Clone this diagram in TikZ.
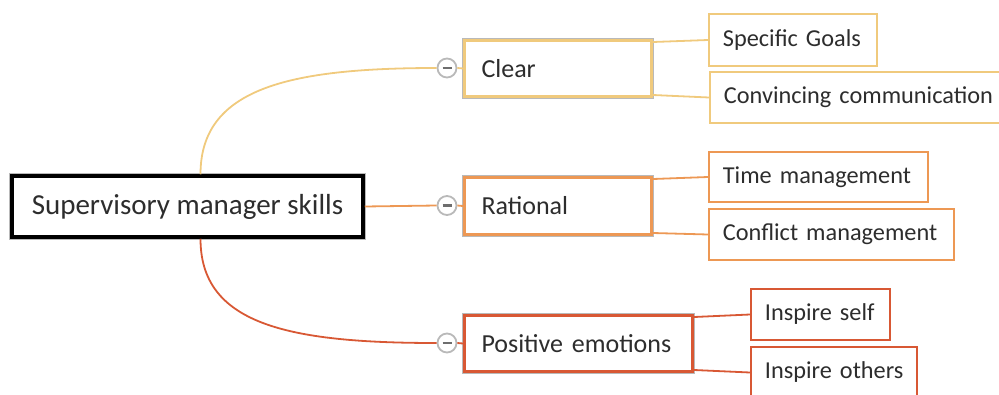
\documentclass[tikz,border=0pt]{standalone}
\usepackage{fontspec}
\setmainfont{Carlito}
\definecolor{cgold}{RGB}{240,202,125}
\definecolor{corange}{RGB}{237,152,84}
\definecolor{cred}{RGB}{216,88,52}
\definecolor{ctext}{RGB}{45,45,45}
\definecolor{chalo}{RGB}{185,185,185}
\definecolor{cminus}{RGB}{110,110,110}
\begin{document}
\begin{tikzpicture}[x=1pt,y=-1pt,
  rootbox/.style={draw=black, line width=3.5pt, preaction={draw=chalo, line width=6pt},
    fill=white, minimum width=351pt, minimum height=61pt, inner sep=0pt,
    font=\fontsize{29}{34}\selectfont, text=ctext},
  midbox/.style={draw=#1, line width=3pt, preaction={draw=chalo, line width=5pt},
    fill=white, anchor=west, inner xsep=17pt, inner ysep=0pt, align=left,
    font=\fontsize{26}{31}\selectfont, text=ctext},
  leafbox/.style={draw=#1, line width=1.8pt, fill=white, anchor=west,
    inner xsep=14pt, inner ysep=0pt, align=left,
    font=\fontsize{24.3}{29}\selectfont, text=ctext},
  toggle/.style={circle, draw=chalo, line width=1.8pt, fill=white,
    minimum size=19pt, inner sep=0pt},
  link/.style={draw=#1, line width=1.8pt},
  minusbar/.style={draw=cminus, line width=2.6pt},
]
\useasboundingbox (0,0) rectangle (999,394);
\clip (0,0) rectangle (999,394);

% root
\node[rootbox] (root) at (187.5,206.5) {Supervisory manager skills};

% toggles
\node[toggle] (t1) at (447,68) {};
\node[toggle] (t2) at (447,205.5) {};
\node[toggle] (t3) at (447,343) {};

% main branches
\node[midbox=cgold, text width=153pt, minimum height=56pt] (clear) at (463,68.5) {\mbox{Clear}};
\node[midbox=corange, text width=153pt, minimum height=57pt] (rational) at (463,206) {\mbox{Rational}};
\node[midbox=cred, text width=194pt, minimum height=56pt] (positive) at (463,343.5) {\mbox{Positive emotions}};

% leaves
\node[leafbox=cgold, text width=140pt, minimum height=52pt] (spec) at (708,40) {\mbox{Specific Goals}};
\node[leafbox=cgold, text width=272pt, minimum height=51pt] (conv) at (709,97.5) {\mbox{Convincing communication}};
\node[leafbox=corange, text width=191pt, minimum height=50pt] (time) at (708,177) {\mbox{Time management}};
\node[leafbox=corange, text width=217pt, minimum height=51pt] (conf) at (708,234.5) {\mbox{Conflict management}};
\node[leafbox=cred, text width=111pt, minimum height=51pt] (self) at (750,314.5) {\mbox{Inspire self}};
\node[leafbox=cred, text width=138pt, minimum height=51pt] (others) at (750,372.5) {\mbox{Inspire others}};

% connectors root -> toggles
\draw[link=cgold] ([xshift=13pt]root.north) .. controls +(0,-85) and +(-150,0) .. (t1.west);
\draw[link=corange] (root.east) -- (t2.west);
\draw[link=cred] ([xshift=13pt]root.south) .. controls +(0,85) and +(-150,0) .. (t3.west);

% toggles -> boxes
\draw[link=cgold] (t1.east) -- (clear.west);
\draw[link=corange] (t2.east) -- (rational.west);
\draw[link=cred] (t3.east) -- (positive.west);

% boxes -> leaves
\draw[link=cgold] ([yshift=-3pt]clear.north east) -- (spec.west);
\draw[link=cgold] ([yshift=3pt]clear.south east) -- (conv.west);
\draw[link=corange] ([yshift=-3pt]rational.north east) -- (time.west);
\draw[link=corange] ([yshift=3pt]rational.south east) -- (conf.west);
\draw[link=cred] ([yshift=-3pt]positive.north east) -- (self.west);
\draw[link=cred] ([yshift=3pt]positive.south east) -- (others.west);

% minus signs
\draw[minusbar] ([xshift=-4.5pt]t1.center) -- ([xshift=4.5pt]t1.center);
\draw[minusbar] ([xshift=-4.5pt]t2.center) -- ([xshift=4.5pt]t2.center);
\draw[minusbar] ([xshift=-4.5pt]t3.center) -- ([xshift=4.5pt]t3.center);
\end{tikzpicture}
\end{document}
